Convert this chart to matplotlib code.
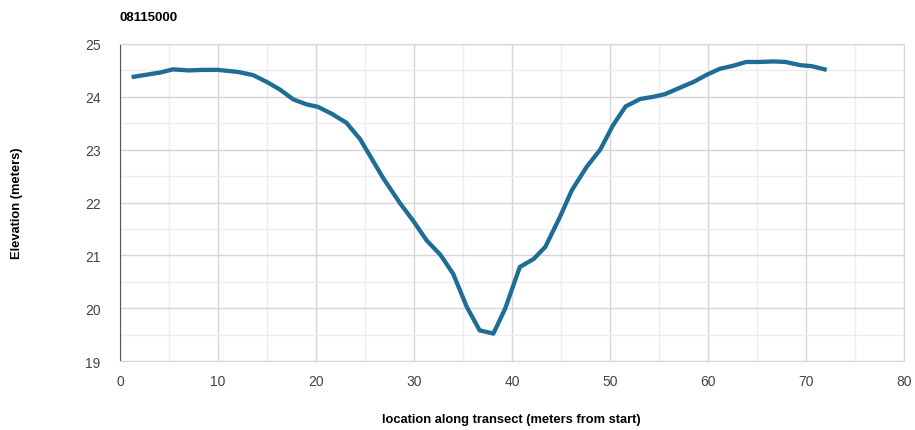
import numpy as np
import matplotlib
matplotlib.use("Agg")
import matplotlib.pyplot as plt
from matplotlib.ticker import MultipleLocator

# transect profile
location = [1.4, 4.1, 5.4, 7.0, 8.5, 10.0, 12.1, 13.6, 15.1, 16.3, 17.7, 19.0,
            20.2, 21.6, 23.1, 24.5, 26.9, 28.6, 29.9, 31.3, 32.7, 34.0, 35.4,
            36.7, 38.1, 39.3, 40.8, 42.2, 43.4, 44.9, 46.1, 47.6, 49.0, 50.3,
            51.6, 53.1, 54.4, 55.6, 57.1, 58.5, 59.9, 61.2, 62.6, 63.9, 65.3,
            66.7, 67.9, 69.4, 70.6, 71.9]
elevation = [24.38, 24.46, 24.52, 24.50, 24.51, 24.51, 24.47, 24.41, 24.27, 24.14,
             23.95, 23.86, 23.81, 23.68, 23.51, 23.20, 22.45, 21.98, 21.66, 21.28,
             21.01, 20.65, 20.02, 19.58, 19.52, 19.99, 20.78, 20.93, 21.16, 21.73,
             22.23, 22.67, 23.00, 23.46, 23.82, 23.96, 24.00, 24.05, 24.17, 24.28,
             24.42, 24.53, 24.59, 24.66, 24.66, 24.67, 24.66, 24.60, 24.58, 24.52]

plt.rcParams['font.family'] = ['Liberation Sans', 'DejaVu Sans']

fig = plt.figure(figsize=(9.15, 4.31), dpi=100)
ax = fig.add_axes([0.1311, 0.160, 0.8569, 0.7356])

ax.plot(location, elevation, color='#1f6c97', lw=3.1, solid_joinstyle='round', zorder=3)

ax.set_xlim(0, 80)
ax.set_ylim(19, 25)
ax.xaxis.set_major_locator(MultipleLocator(10))
ax.xaxis.set_minor_locator(MultipleLocator(5))
ax.yaxis.set_major_locator(MultipleLocator(1))
ax.yaxis.set_minor_locator(MultipleLocator(0.5))
ax.grid(which='major', color='#d6d6d6', lw=1.0)
ax.grid(which='minor', color='#ededed', lw=1.0)
ax.set_axisbelow(True)

ax.tick_params(which='both', length=0, labelsize=10, labelcolor='#444444')
ax.tick_params(axis='x', pad=9)
ax.tick_params(axis='y', pad=14)

for side in ['top', 'right', 'bottom']:
    ax.spines[side].set_color('#d6d6d6')
ax.spines['left'].set_color('#555555')

fig.text(0.1311, 0.958, '08115000', fontsize=9.5, fontweight='bold', ha='left', va='center')
fig.text(0.019, 0.528, 'Elevation (meters)', fontsize=9.3, fontweight='bold',
         rotation=90, ha='center', va='center')
fig.text(0.559, 0.025, 'location along transect (meters from start)', fontsize=9.3,
         fontweight='bold', ha='center', va='center')

fig.savefig('out.png', dpi=100)
